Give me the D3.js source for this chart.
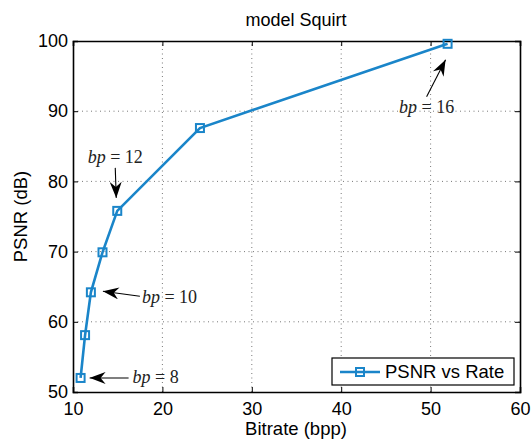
<!DOCTYPE html>
<html><head><meta charset="utf-8">
<script src="https://cdn.jsdelivr.net/npm/d3@7"></script>
<style>body{margin:0;background:#fff}svg{display:block}</style>
</head><body>
<script>
const bitrate = [10.85, 11.35, 12.0, 13.3, 14.95, 24.2, 51.9];
const psnr = [52.0, 58.1, 64.2, 69.9, 75.8, 87.6, 99.6];
const xTicks = [10, 20, 30, 40, 50, 60];
const yTicks = [50, 60, 70, 80, 90, 100];
const annLabels = ["8", "10", "12", "16"];
const annIndex = [0, 2, 4, 6];

const W = 531, H = 440;
const m = {l: 73, r: 11, t: 41, b: 48};
const svg = d3.select("body").append("svg").attr("width", W).attr("height", H);
const x = d3.scaleLinear().domain([10, 60]).range([m.l, W - m.r]);
const y = d3.scaleLinear().domain([50, 100]).range([H - m.b, m.t]);
const color = "#1a85c9";
const font = "Liberation Sans, Arial, sans-serif";

// grid
const g = svg.append("g");
g.selectAll(".gx").data(xTicks.slice(1, -1)).join("line")
  .attr("x1", d => x(d)).attr("x2", d => x(d)).attr("y1", y(50)).attr("y2", y(100))
  .attr("stroke", "#555").attr("stroke-width", 0.8).attr("stroke-dasharray", "1,3.5");
g.selectAll(".gy").data(yTicks.slice(1, -1)).join("line")
  .attr("y1", d => y(d)).attr("y2", d => y(d)).attr("x1", x(10)).attr("x2", x(60))
  .attr("stroke", "#555").attr("stroke-width", 0.8).attr("stroke-dasharray", "1,3.5");

// axes
const ax = svg.append("g").attr("transform", `translate(0,${y(50)})`)
  .call(d3.axisBottom(x).tickValues(xTicks).tickSize(-5).tickPadding(10));
const axT = svg.append("g").attr("transform", `translate(0,${y(100)})`)
  .call(d3.axisTop(x).tickValues(xTicks).tickSize(-5).tickFormat(""));
const ay = svg.append("g").attr("transform", `translate(${x(10)},0)`)
  .call(d3.axisLeft(y).tickValues(yTicks).tickSize(-5).tickPadding(5));
const ayR = svg.append("g").attr("transform", `translate(${x(60)},0)`)
  .call(d3.axisRight(y).tickValues(yTicks).tickSize(-5).tickFormat(""));
[ax, axT, ay, ayR].forEach(a => {
  a.selectAll("path").attr("stroke", "#000").attr("stroke-width", 1.6);
  a.selectAll("line").attr("stroke", "#000").attr("stroke-width", 1);
  a.selectAll("text").attr("font-family", font).attr("font-size", 18).attr("fill", "#000");
});

// line and markers
const pts = bitrate.map((d, i) => [d, psnr[i]]);
svg.append("path").datum(pts)
  .attr("d", d3.line().x(d => x(d[0])).y(d => y(d[1])))
  .attr("fill", "none").attr("stroke", color).attr("stroke-width", 2.6);
svg.selectAll(".mk").data(pts).join("rect")
  .attr("x", d => x(d[0]) - 4).attr("y", d => y(d[1]) - 4)
  .attr("width", 8).attr("height", 8)
  .attr("fill", "none").attr("stroke", color).attr("stroke-width", 2);

// arrow marker
svg.append("defs").append("marker").attr("id", "ah")
  .attr("viewBox", "0 0 16 12").attr("refX", 16).attr("refY", 6)
  .attr("markerWidth", 16).attr("markerHeight", 12).attr("markerUnits", "userSpaceOnUse")
  .attr("orient", "auto")
  .append("path").attr("d", "M0,0 L16,6 L0,12 L5,6 Z").attr("fill", "#000");

// annotations
const annGeom = [
  {tail: [48, 0], tip: [9, 0], text: [52, 0], anchor: "start"},
  {tail: [49, 4], tip: [12, -1], text: [51, 5], anchor: "start"},
  {tail: [-2, -43], tip: [-1, -13], text: [-2, -53], anchor: "middle"},
  {tail: [-21, 53], tip: [-2, 16], text: [-21, 64], anchor: "middle"}
];
annIndex.forEach((pi, k) => {
  const px = x(bitrate[pi]), py = y(psnr[pi]);
  const gm = annGeom[k];
  svg.append("line")
    .attr("x1", px + gm.tail[0]).attr("y1", py + gm.tail[1])
    .attr("x2", px + gm.tip[0]).attr("y2", py + gm.tip[1])
    .attr("stroke", "#000").attr("stroke-width", 1.1).attr("marker-end", "url(#ah)");
  const t = svg.append("text").attr("x", px + gm.text[0]).attr("y", py + gm.text[1])
    .attr("dy", "0.3em").attr("text-anchor", gm.anchor)
    .attr("font-family", "Liberation Serif, DejaVu Serif, serif").attr("font-size", 18).attr("fill", "#222");
  t.append("tspan").attr("font-style", "italic").text("bp");
  t.append("tspan").text(" = " + annLabels[k]);
});

// title and labels
svg.append("text").attr("x", 296).attr("y", 26).attr("text-anchor", "middle")
  .attr("font-family", font).attr("font-size", 18).text("model Squirt");
svg.append("text").attr("x", 296).attr("y", 435).attr("text-anchor", "middle")
  .attr("font-family", font).attr("font-size", 18.5).text("Bitrate (bpp)");
svg.append("text").attr("transform", `translate(27,${(y(50) + y(100)) / 2}) rotate(-90)`)
  .attr("text-anchor", "middle")
  .attr("font-family", font).attr("font-size", 18.5).text("PSNR (dB)");

// legend
const lg = svg.append("g");
lg.append("rect").attr("x", 332).attr("y", 358).attr("width", 182).attr("height", 27)
  .attr("fill", "#fff").attr("stroke", "#000").attr("stroke-width", 1.2);
lg.append("line").attr("x1", 340).attr("x2", 380).attr("y1", 372).attr("y2", 372)
  .attr("stroke", color).attr("stroke-width", 2.6);
lg.append("rect").attr("x", 356).attr("y", 368).attr("width", 8).attr("height", 8)
  .attr("fill", "none").attr("stroke", color).attr("stroke-width", 2);
lg.append("text").attr("x", 385).attr("y", 372).attr("dy", "0.35em")
  .attr("font-family", font).attr("font-size", 18.5).text("PSNR vs Rate");
</script>
</body></html>
